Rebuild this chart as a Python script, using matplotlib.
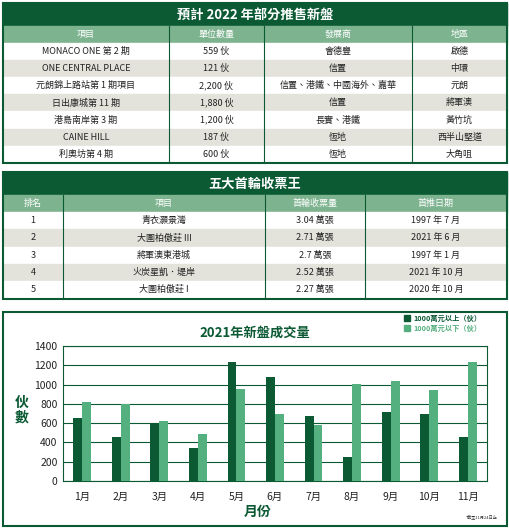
import matplotlib
matplotlib.use("Agg")
import matplotlib.pyplot as plt
from matplotlib.patches import Rectangle
import numpy as np

plt.rcParams['font.family'] = ['Noto Sans CJK TC', 'DejaVu Sans']

t1_title = "預計 2022 年部分推售新盤"
t1_header = ["項目", "單位數量", "發展商", "地區"]
t1_rows = [
    ["MONACO ONE 第 2 期", "559 伙", "會德豐", "啟德"],
    ["ONE CENTRAL PLACE", "121 伙", "信置", "中環"],
    ["元朗錦上路站第 1 期項目", "2,200 伙", "信置、港鐵、中國海外、嘉華", "元朗"],
    ["日出康城第 11 期", "1,880 伙", "信置", "將軍澳"],
    ["港島南岸第 3 期", "1,200 伙", "長實、港鐵", "黃竹坑"],
    ["CAINE HILL", "187 伙", "恆地", "西半山堅道"],
    ["利奧坊第 4 期", "600 伙", "恆地", "大角咀"],
]
t2_title = "五大首輪收票王"
t2_header = ["排名", "項目", "首輪收票量", "首推日期"]
t2_rows = [
    ["1", "青衣灝景灣", "3.04 萬張", "1997 年 7 月"],
    ["2", "大圍柏傲莊 III", "2.71 萬張", "2021 年 6 月"],
    ["3", "將軍澳東港城", "2.7 萬張", "1997 年 1 月"],
    ["4", "火炭星凱．堤岸", "2.52 萬張", "2021 年 10 月"],
    ["5", "大圍柏傲莊 I", "2.27 萬張", "2020 年 10 月"],
]
months = ["1月", "2月", "3月", "4月", "5月", "6月", "7月", "8月", "9月", "10月", "11月"]
above = [655, 457, 589, 343, 1230, 1081, 672, 250, 717, 696, 457]
below = [821, 797, 620, 485, 953, 696, 579, 1008, 1040, 946, 1234]

DARK = "#0b5a34"
LIGHT = "#55b07f"
HEAD = "#7db38f"
GRAY = "#e3e3db"

fig = plt.figure(figsize=(5.10, 5.29), dpi=100)
bg = fig.add_axes([0, 0, 1, 1])
bg.set_xlim(0, 510); bg.set_ylim(529, 0); bg.axis('off')

def table(y0, title, header, rows, cols, rowh=17.1):
    x0, x1 = cols[0], cols[-1]
    bg.add_patch(Rectangle((x0, y0), x1 - x0, 23, color=DARK))
    bg.text((x0 + x1) / 2, y0 + 12, title, color='white', fontsize=9.5,
            fontweight='bold', ha='center', va='center')
    yh = y0 + 23
    bg.add_patch(Rectangle((x0, yh), x1 - x0, 17, color=HEAD))
    for i, h in enumerate(header):
        bg.text((cols[i] + cols[i + 1]) / 2, yh + 8.5, h, color='white',
                fontsize=6.5, ha='center', va='center')
    y = yh + 17
    for r, row in enumerate(rows):
        bg.add_patch(Rectangle((x0, y), x1 - x0, rowh,
                               color=('white' if r % 2 == 0 else GRAY)))
        for i, c in enumerate(row):
            bg.text((cols[i] + cols[i + 1]) / 2, y + rowh / 2, c, color='#222',
                    fontsize=6.5, ha='center', va='center')
        y += rowh
    for c in cols[1:-1]:
        bg.plot([c, c], [yh, y], color=DARK, lw=0.8)
    bg.add_patch(Rectangle((x0, y0), x1 - x0, y - y0, fill=False,
                           ec=DARK, lw=1.5))

table(3, t1_title, t1_header, t1_rows, [3, 169, 264, 412, 507])
table(172, t2_title, t2_header, t2_rows, [3, 63, 265, 365, 507], rowh=17.3)

bg.add_patch(Rectangle((3, 312), 504, 214, fill=False, ec=DARK, lw=1.5))
bg.text(255, 333, "2021年新盤成交量", color=DARK, fontsize=9.5,
        fontweight='bold', ha='center', va='center')
bg.add_patch(Rectangle((404, 315), 6, 6, color=DARK))
bg.text(413, 318, "1000萬元以上（伙）", color=DARK, fontsize=5.2, va='center', fontweight='bold')
bg.add_patch(Rectangle((404, 325), 6, 6, color=LIGHT))
bg.text(413, 328, "1000萬元以下（伙）", color=LIGHT, fontsize=5.2, va='center', fontweight='bold')
bg.text(22, 410, "伙\n數", color=DARK, fontsize=10, fontweight='bold',
        ha='center', va='center', linespacing=1.1)
bg.text(258, 512, "月份", color=DARK, fontsize=10, fontweight='bold',
        ha='center', va='center')
bg.text(482, 517, "*截至11月24日止", color='#333', fontsize=3, ha='center', va='center')

W, H = 510, 529
ax = fig.add_axes([63 / W, 1 - 481 / H, (487 - 63) / W, (481 - 346) / H])
x = np.arange(len(months))
w = 0.23
ax.bar(x - w / 2, above, w, color=DARK, zorder=3)
ax.bar(x + w / 2, below, w, color=LIGHT, zorder=3)
ax.set_ylim(0, 1400)
ax.set_xlim(-0.5, len(months) - 0.5)
ax.set_yticks(range(0, 1401, 200))
ax.set_xticks(x)
ax.set_xticklabels(months)
ax.yaxis.grid(True, color=DARK, lw=0.8, zorder=0)
for s in ax.spines.values():
    s.set_color(DARK); s.set_linewidth(0.8)
ax.tick_params(length=0, labelsize=7.5, colors='#222', pad=4)
ax.tick_params(axis='x', pad=8)

fig.savefig("out.png", dpi=100)
